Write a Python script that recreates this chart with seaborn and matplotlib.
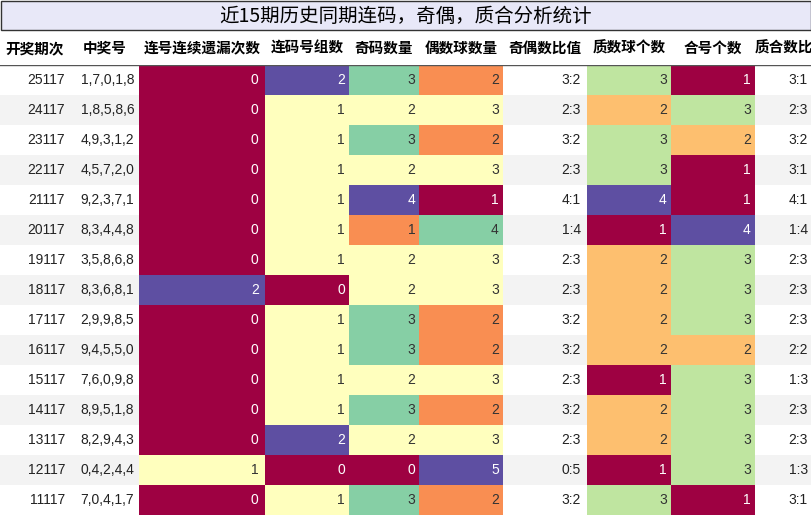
import numpy as np
import pandas as pd
import seaborn as sns
import matplotlib.pyplot as plt
from matplotlib.colors import ListedColormap
from matplotlib.patches import Rectangle

plt.rcParams['font.family'] = ['Liberation Sans', 'Noto Sans CJK SC', 'DejaVu Sans']

# data
periods = ['25117', '24117', '23117', '22117', '21117', '20117', '19117', '18117',
           '17117', '16117', '15117', '14117', '13117', '12117', '11117']
numbers = ['1,7,0,1,8', '1,8,5,8,6', '4,9,3,1,2', '4,5,7,2,0', '9,2,3,7,1',
           '8,3,4,4,8', '3,5,8,6,8', '8,3,6,8,1', '2,9,9,8,5', '9,4,5,5,0',
           '7,6,0,9,8', '8,9,5,1,8', '8,2,9,4,3', '0,4,2,4,4', '7,0,4,1,7']
consec_miss = [0, 0, 0, 0, 0, 0, 0, 2, 0, 0, 0, 0, 0, 1, 0]
consec_groups = [2, 1, 1, 1, 1, 1, 1, 0, 1, 1, 1, 1, 2, 0, 1]
odd_count = [3, 2, 3, 2, 4, 1, 2, 2, 3, 3, 2, 3, 2, 0, 3]
even_count = [2, 3, 2, 3, 1, 4, 3, 3, 2, 2, 3, 2, 3, 5, 2]
odd_even_ratio = ['3:2', '2:3', '3:2', '2:3', '4:1', '1:4', '2:3', '2:3',
                  '3:2', '3:2', '2:3', '3:2', '2:3', '0:5', '3:2']
prime_count = [3, 2, 3, 3, 4, 1, 2, 2, 2, 2, 1, 2, 2, 1, 3]
composite_count = [1, 3, 2, 1, 1, 4, 3, 3, 3, 2, 3, 3, 3, 3, 1]
prime_ratio = ['3:1', '2:3', '3:2', '3:1', '4:1', '1:4', '2:3', '2:3',
               '2:3', '2:2', '1:3', '2:3', '2:3', '1:3', '3:1']

columns = [
    ('开奖期次', periods, False),
    ('中奖号', numbers, False),
    ('连号连续遗漏次数', consec_miss, True),
    ('连码号组数', consec_groups, True),
    ('奇码数量', odd_count, True),
    ('偶数球数量', even_count, True),
    ('奇偶数比值', odd_even_ratio, False),
    ('质数球个数', prime_count, True),
    ('合号个数', composite_count, True),
    ('质合数比', prime_ratio, False),
]
widths = [70, 69, 126, 84, 70, 84, 84, 84, 84, 57]

W, H = 812, 516
fig = plt.figure(figsize=(W / 100, H / 100), dpi=100)

# title box
fig.patches.append(Rectangle((1 / W, 1 - 30 / H), 1 - 2 / W, 29 / H, transform=fig.transFigure,
                             facecolor='#e8e8f8', edgecolor='#333333', lw=1))
fig.text(0.5, 1 - 16 / H, '近15期历史同期连码，奇偶，质合分析统计', ha='center', va='center',
         fontsize=14, family=['Noto Sans CJK SC', 'DejaVu Sans'])

n = len(periods)
top_px, bot_px = 65, 515
parity = np.array([[i % 2] for i in range(n)])
x0 = 0
for (name, vals, numeric), w in zip(columns, widths):
    ax = fig.add_axes([x0 / W, 1 - bot_px / H, w / W, (bot_px - top_px) / H])
    if numeric:
        arr = np.array(vals, dtype=float).reshape(-1, 1)
        vmin, vmax = arr.min(), arr.max()
        sns.heatmap(arr, cmap='Spectral', vmin=vmin, vmax=vmax, cbar=False, ax=ax)
        cmap = plt.get_cmap('Spectral')
        for i, v in enumerate(vals):
            r, g, b, _ = cmap((v - vmin) / (vmax - vmin))
            lum = 0.299 * r + 0.587 * g + 0.114 * b
            ax.text(0.95, i + 0.5, str(v), ha='right', va='center', fontsize=10,
                    color='white' if lum < 0.6 else '#333333')
    else:
        sns.heatmap(parity, cmap=ListedColormap(['white', '#f3f3f3']), vmin=0, vmax=1,
                    cbar=False, ax=ax)
        for i, v in enumerate(vals):
            ax.text(0.93, i + 0.5, v, ha='right', va='center', fontsize=10, color='#222222')
    ax.set_xticks([])
    ax.set_yticks([])
    ax.axhline(0, color='#555555', lw=1)
    fig.text((x0 + w / 2) / W, 1 - 48 / H, name, ha='center', va='center', fontsize=10.5,
             fontweight='bold', family=['Noto Sans CJK SC', 'DejaVu Sans'])
    x0 += w

fig.savefig('out.png', dpi=100)
